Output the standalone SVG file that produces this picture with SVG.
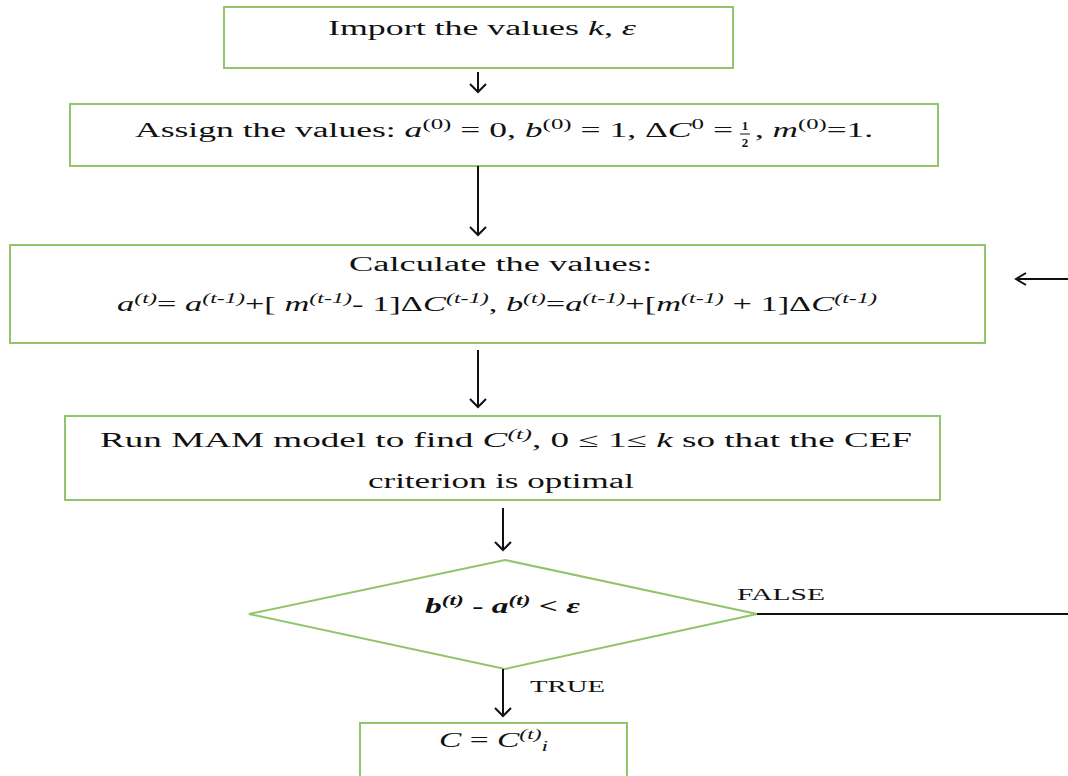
<svg xmlns="http://www.w3.org/2000/svg" width="1068" height="776" viewBox="0 0 1068 776">
<style>
.box{fill:#fff;stroke:#92c46c;stroke-width:2}
.t{font-family:"Liberation Serif","Times New Roman",serif;font-size:20px;fill:#111}
.i{font-style:italic}
.sup{font-size:14px}
.con{fill:none;stroke:#111;stroke-width:2}
.lbl{font-family:"Liberation Serif","Times New Roman",serif;font-size:17px;fill:#111}
</style>
<rect width="1068" height="776" fill="#fff"/>
<g id="n1">
<rect class="box" x="224" y="7" width="509" height="61"/>
<text class="t" x="328" y="35" textLength="308" lengthAdjust="spacingAndGlyphs">Import the values <tspan class="i">k</tspan>, <tspan class="i">ε</tspan></text>
</g>
<g id="n2">
<rect class="box" x="70" y="104" width="868" height="62"/>
<text class="t" x="135" y="137" textLength="598" lengthAdjust="spacingAndGlyphs">Assign the values: <tspan class="i">a</tspan><tspan class="sup" dy="-8">(0)</tspan><tspan dy="8"> = 0, </tspan><tspan class="i">b</tspan><tspan class="sup" dy="-8">(0)</tspan><tspan dy="8"> = 1, Δ</tspan><tspan class="i">C</tspan><tspan class="sup" dy="-8">0</tspan><tspan dy="8"> =</tspan></text>
<text class="t" x="745" y="130" font-weight="bold" text-anchor="middle" style="font-size:13px">1</text>
<line x1="740" y1="134" x2="750" y2="134" stroke="#111" stroke-width="1"/>
<text class="t" x="745" y="147" font-weight="bold" text-anchor="middle" style="font-size:13px">2</text>
<text class="t" x="755" y="137" textLength="118" lengthAdjust="spacingAndGlyphs">, <tspan class="i">m</tspan><tspan class="sup" dy="-8">(0)</tspan><tspan dy="8">=1.</tspan></text>
</g>
<g id="n3">
<rect class="box" x="10" y="245" width="975" height="98"/>
<text class="t" x="349" y="271" textLength="303" lengthAdjust="spacingAndGlyphs">Calculate the values:</text>
<text class="t" x="117" y="311" textLength="760" lengthAdjust="spacingAndGlyphs"><tspan class="i">a</tspan><tspan class="sup i" dy="-8">(t)</tspan><tspan dy="8">= </tspan><tspan class="i">a</tspan><tspan class="sup i" dy="-8">(t-1)</tspan><tspan dy="8">+[ </tspan><tspan class="i">m</tspan><tspan class="sup i" dy="-8">(t-1)</tspan><tspan dy="8">- 1]Δ</tspan><tspan class="i">C</tspan><tspan class="sup i" dy="-8">(t-1)</tspan><tspan dy="8">, </tspan><tspan class="i">b</tspan><tspan class="sup i" dy="-8">(t)</tspan><tspan dy="8">=</tspan><tspan class="i">a</tspan><tspan class="sup i" dy="-8">(t-1)</tspan><tspan dy="8">+[</tspan><tspan class="i">m</tspan><tspan class="sup i" dy="-8">(t-1)</tspan><tspan dy="8"> + 1]Δ</tspan><tspan class="i">C</tspan><tspan class="sup i" dy="-8">(t-1)</tspan></text>
</g>
<g id="n4">
<rect class="box" x="65" y="416" width="875" height="84"/>
<text class="t" x="100" y="447" textLength="812" lengthAdjust="spacingAndGlyphs">Run MAM model to find <tspan class="i">C</tspan><tspan class="sup i" dy="-8">(t)</tspan><tspan dy="8">, 0 ≤ 1≤ </tspan><tspan class="i">k</tspan> so that the CEF</text>
<text class="t" x="368" y="488" textLength="266" lengthAdjust="spacingAndGlyphs">criterion is optimal</text>
</g>
<g id="n5">
<polygon class="box" points="505,560 757,614 505,669 249,614"/>
<text class="t" x="425" y="613" font-weight="bold" textLength="155" lengthAdjust="spacingAndGlyphs"><tspan class="i">b</tspan><tspan class="sup i" dy="-8">(t)</tspan><tspan dy="8"> - </tspan><tspan class="i">a</tspan><tspan class="sup i" dy="-8">(t)</tspan><tspan dy="8" class="i"> &lt; ε</tspan></text>
</g>
<g id="n6">
<rect class="box" x="360" y="723" width="267" height="60"/>
<text class="t" x="439" y="747" textLength="109" lengthAdjust="spacingAndGlyphs"><tspan class="i">C</tspan> = <tspan class="i">C</tspan><tspan class="sup i" dy="-8">(t)</tspan><tspan class="i sup" dy="12">i</tspan></text>
</g>
<g id="connectors">
<path class="con" d="M478 72V92M470 84L478 92L486 84"/>
<path class="con" d="M478 166V235M470 227L478 235L486 227"/>
<path class="con" d="M478 350V407M470 399L478 407L486 399"/>
<path class="con" d="M503 508V550M495 542L503 550L511 542"/>
<path class="con" d="M503 669V716M495 708L503 716L511 708"/>
<path class="con" d="M757 614H1068"/>
<path class="con" d="M1068 279H1016M1026 273L1016 279L1026 285"/>
<text class="lbl" x="737" y="600" textLength="88" lengthAdjust="spacingAndGlyphs">FALSE</text>
<text class="lbl" x="530" y="692" textLength="75" lengthAdjust="spacingAndGlyphs">TRUE</text>
</g>
</svg>
